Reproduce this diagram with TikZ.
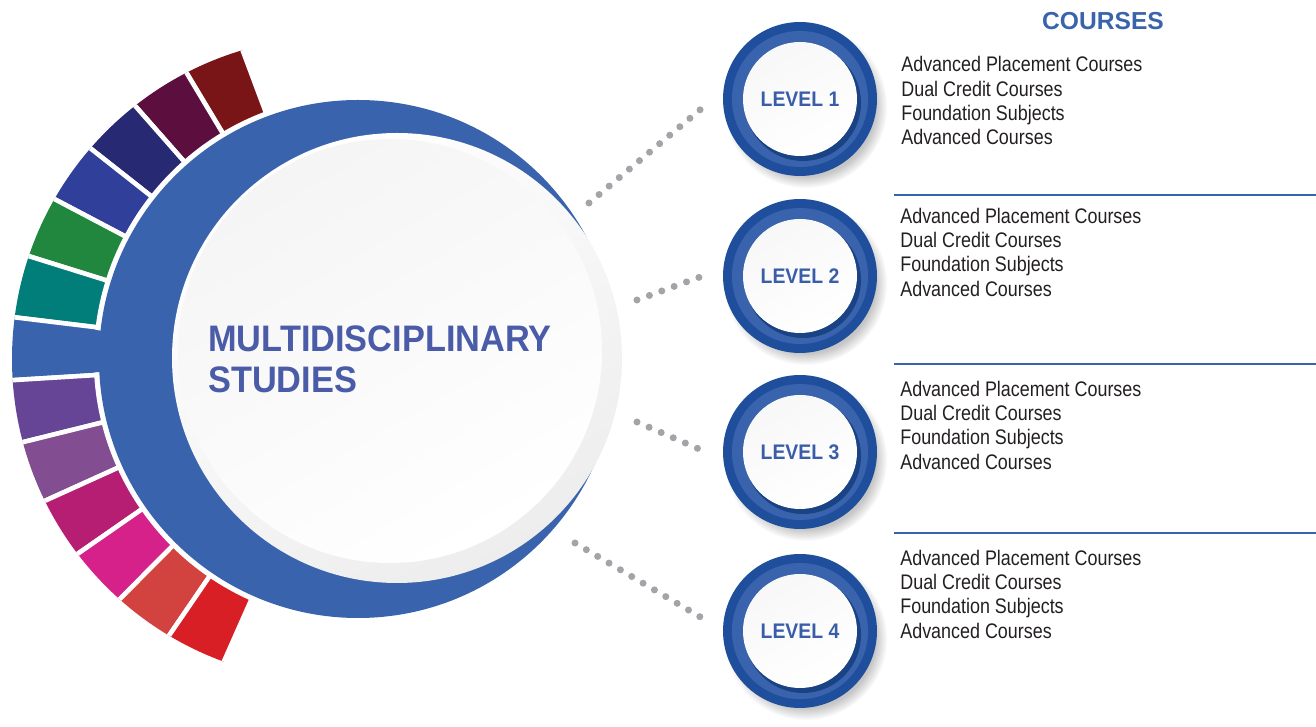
\documentclass[tikz,border=0pt]{standalone}
\usepackage{fontspec}
\setmainfont{Liberation Sans}
\newfontfamily\narrowfont[FakeStretch=0.85]{Liberation Sans}
\newfontfamily\titlefont[FakeStretch=0.93]{Liberation Sans}
\newfontfamily\levelfont[FakeStretch=0.92]{Liberation Sans}
\usetikzlibrary{calc, shadows}

\definecolor{ringblue}{HTML}{3A63AD}
\definecolor{lvdark}{HTML}{1F4F9C}
\definecolor{lvtext}{HTML}{3A5DAA}
\definecolor{titleblue}{HTML}{4A5BA8}
\definecolor{txtdark}{HTML}{231F20}
\definecolor{dotgray}{HTML}{A3A4A8}
% outer band, top to bottom
\definecolor{segA}{HTML}{7A1517}
\definecolor{segB}{HTML}{5C0F3F}
\definecolor{segC}{HTML}{272A73}
\definecolor{segD}{HTML}{303F99}
\definecolor{segE}{HTML}{21873F}
\definecolor{segF}{HTML}{017E79}
\definecolor{segH}{HTML}{664596}
\definecolor{segI}{HTML}{834D91}
\definecolor{segJ}{HTML}{B51E72}
\definecolor{segK}{HTML}{D6208A}
\definecolor{segL}{HTML}{D2433F}
\definecolor{segM}{HTML}{D81F26}

\begin{document}
\begin{tikzpicture}[x=0.02cm, y=0.02cm,
  dots/.style={draw=dotgray, line width=4pt, line cap=round,
    dash pattern=on 0pt off 7.5pt},
  lvl/.style={circle, minimum size=3.08cm, inner sep=0pt, fill=lvdark,
    circular drop shadow={shadow xshift=3pt, shadow yshift=-4pt,
      shadow scale=1.06, opacity=.45},
    text=lvtext, font=\levelfont\bfseries\fontsize{12}{14}\selectfont,
    path picture={
      \coordinate (m) at (path picture bounding box.center);
      \fill[ringblue] (m) circle[radius=68];
      \fill[lvdark!85!black] ($(m)+(3,-4)$) circle[radius=58];
      \shade[top color=black!3, bottom color=white, shading angle=30]
        (m) circle[radius=57];
    }},
  crs/.style={anchor=north west, inner sep=0pt, align=left, text=txtdark,
    font=\narrowfont\fontsize{12}{13.9}\selectfont},
  rule/.style={draw=ringblue, line width=1.2pt}]
\useasboundingbox (0,0) rectangle (1316,727);

% Coloured band round the ring, clipped by its outer circle
\begin{scope}
  \clip (334,368) circle[radius=322];
  \foreach \col [count=\i from 0] in
      {segA,segB,segC,segD,segE,segF,ringblue,segH,segI,segJ,segK,segL,segM} {
    \pgfmathsetmacro\sa{110.5+10.43*\i}
    \pgfmathsetmacro\sb{\sa+10.43}
    \filldraw[fill=\col, draw=white, line width=2.6pt]
      ($(358,368)+(\sa:262)$) arc[start angle=\sa, end angle=\sb, radius=262]
      -- ($(358,368)+(\sb:400)$) arc[start angle=\sb, end angle=\sa, radius=400]
      -- cycle;
  }
\end{scope}

% Blue ring and the tab that joins it
\fill[ringblue] (358,368) circle[radius=259];
\fill[ringblue] ($(358,368)+(173.7:250)$) arc[start angle=173.7, end angle=182.9, radius=250]
  -- ($(358,368)+(182.9:268)$) arc[start angle=182.9, end angle=173.7, radius=268] -- cycle;

% White disc on top
\shade[top color=white, bottom color=black!7, shading angle=30]
  (397,369) circle[radius=225];
\shade[top color=black!4, bottom color=white, shading angle=30]
  (390,376) circle[radius=212];
\node[align=left, inner sep=0pt, anchor=west, text=titleblue,
  font=\titlefont\bfseries\fontsize{21}{23.2}\selectfont]
  (title) at (208,368) {MULTIDISCIPLINARY\\STUDIES};

% Header
\node[inner sep=0pt, text=ringblue, font=\bfseries\fontsize{14}{16}\selectfont]
  (hdr) at (1103,706) {COURSES};

% Levels
\node[lvl] (l1) at (800,628) {LEVEL 1};
\node[lvl] (l2) at (800,451) {LEVEL 2};
\node[lvl] (l3) at (800,275) {LEVEL 3};
\node[lvl] (l4) at (800,96) {LEVEL 4};

% Course lists
\node[crs] (c1) at (901,671) {Advanced Placement Courses\\Dual Credit Courses\\Foundation Subjects\\Advanced Courses};
\node[crs] (c2) at (900,519.5) {Advanced Placement Courses\\Dual Credit Courses\\Foundation Subjects\\Advanced Courses};
\node[crs] (c3) at (900,346.5) {Advanced Placement Courses\\Dual Credit Courses\\Foundation Subjects\\Advanced Courses};
\node[crs] (c4) at (900,177.5) {Advanced Placement Courses\\Dual Credit Courses\\Foundation Subjects\\Advanced Courses};

% Rules between the lists
\draw[rule] (894,532) -- (1316,532);
\draw[rule] (894,363) -- (1316,363);
\draw[rule] (894,194) -- (1316,194);

% Dotted connectors
\coordinate (d1a) at (589,524);
\coordinate (d1b) at (701,618);
\coordinate (d2a) at (637,427);
\coordinate (d2b) at (700,450);
\coordinate (d3a) at (637,305);
\coordinate (d3b) at (699,278);
\coordinate (d4a) at (575,184);
\coordinate (d4b) at (702,109);
\draw[dots] (d1a) -- (d1b);
\draw[dots] (d2a) -- (d2b);
\draw[dots] (d3a) -- (d3b);
\draw[dots] (d4a) -- (d4b);
\end{tikzpicture}
\end{document}
